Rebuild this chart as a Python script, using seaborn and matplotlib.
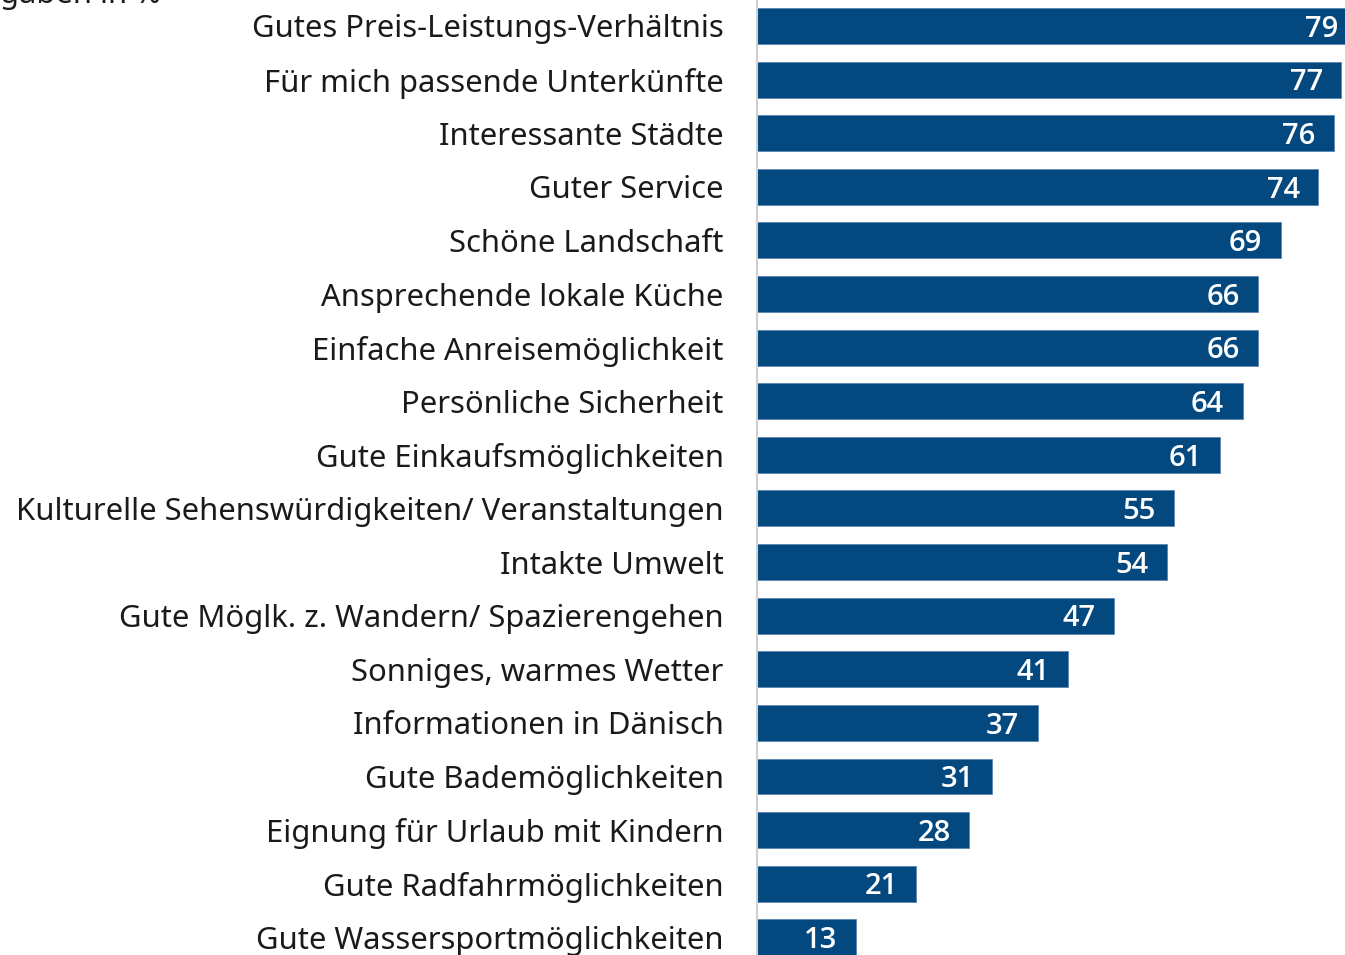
import matplotlib
matplotlib.use("Agg")
import matplotlib.pyplot as plt
import seaborn as sns
import pandas as pd

categories = [
    "Gutes Preis-Leistungs-Verhältnis",
    "Für mich passende Unterkünfte",
    "Interessante Städte",
    "Guter Service",
    "Schöne Landschaft",
    "Ansprechende lokale Küche",
    "Einfache Anreisemöglichkeit",
    "Persönliche Sicherheit",
    "Gute Einkaufsmöglichkeiten",
    "Kulturelle Sehenswürdigkeiten/ Veranstaltungen",
    "Intakte Umwelt",
    "Gute Möglk. z. Wandern/ Spazierengehen",
    "Sonniges, warmes Wetter",
    "Informationen in Dänisch",
    "Gute Bademöglichkeiten",
    "Eignung für Urlaub mit Kindern",
    "Gute Radfahrmöglichkeiten",
    "Gute Wassersportmöglichkeiten",
]
values = [79, 77, 76, 74, 69, 66, 66, 64, 61, 55, 54, 47, 41, 37, 31, 28, 21, 13]
note = "Angaben in %"

BAR = "#03497f"
df = pd.DataFrame({"cat": categories, "val": values})

sns.set_theme(style="white")
plt.rcParams["font.family"] = ["Noto Sans", "DejaVu Sans"]

W, H = 1345, 955
fig = plt.figure(figsize=(W / 100, H / 100), dpi=100)
ax = fig.add_axes([757 / W, 0, 1 - 757 / W, 1])

sns.barplot(data=df, x="val", y="cat", orient="h", color=BAR, width=0.67,
            saturation=1, ax=ax, edgecolor="#5a86b0", linewidth=0.6)

ax.set_xlim(0, 77.5)
ax.set_ylim(17.33, -0.485)
ax.set_xlabel("")
ax.set_ylabel("")
ax.set_xticks([])
ax.tick_params(axis="y", length=0, pad=24, labelsize=22.3, labelcolor="#1a1a1a")
for s in ["top", "right", "bottom"]:
    ax.spines[s].set_visible(False)
ax.spines["left"].set_color("#d0d0d0")
ax.spines["left"].set_linewidth(1.5)

for i, v in enumerate(values):
    ax.text(v - 4.6, i + 0.06, str(v), ha="center", va="center", color="white",
            fontsize=21, fontweight="semibold", family=["Open Sans", "DejaVu Sans"])

fig.text(-0.029, 1 - 3 / H, note, ha="left", va="baseline", fontsize=22.3, color="#1a1a1a")

fig.savefig("out.png", dpi=100)
